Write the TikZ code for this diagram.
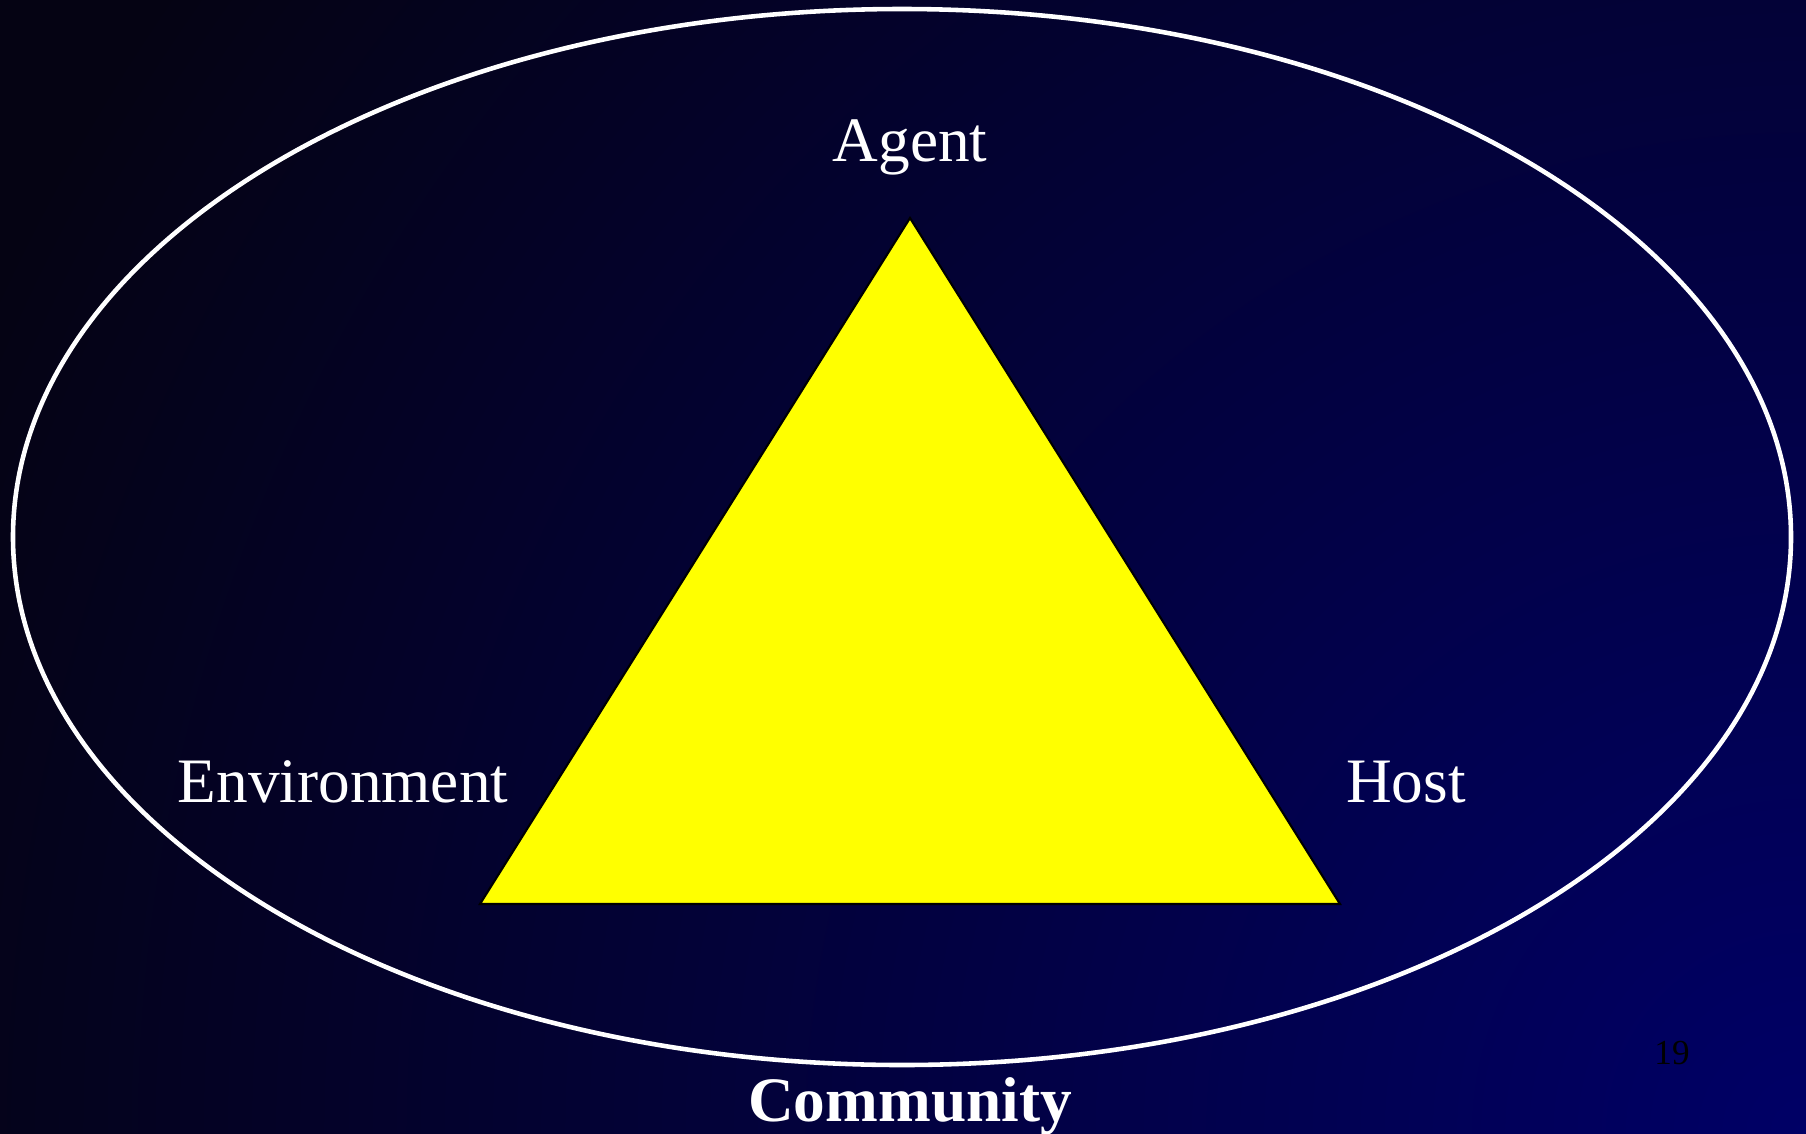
\documentclass[tikz,border=0pt]{standalone}
\usepackage{fontspec}
\setmainfont{Liberation Serif}
\usepackage{xcolor}
\usetikzlibrary{positioning}

\definecolor{bgDark}{HTML}{050313}
\definecolor{bgNavy}{HTML}{000066}
\definecolor{triYellow}{RGB}{255,255,0}

\tikzset{
  lbl/.style={text=white, inner sep=0pt, font=\fontsize{18}{22}\selectfont},
}

\begin{document}
\begin{tikzpicture}[x=0.01cm, y=-0.01cm]
    \useasboundingbox (0,0) rectangle (1806,1133);
    % slide background, brightest in the lower right corner
    \begin{scope}
        \clip (0,0) rectangle (1806,1133);
        \fill[bgDark] (0,0) rectangle (1806,1133);
        \shade[inner color=bgNavy, outer color=bgDark] (1806,1133) circle [radius=2000];
    \end{scope}
    % the ring round everything
    \draw[white, line width=1.3pt] (902,537) ellipse [x radius=889, y radius=528];
    % the triangle
    \coordinate (apex) at (910,218);
    \coordinate (envc) at (480,904);
    \coordinate (hostc) at (1340,904);
    \filldraw[fill=triYellow, draw=black, line width=0.6pt] (apex) -- (envc) -- (hostc) -- cycle;
    \node[lbl, above=0.42cm of apex] (agent) {Agent};
    \node[lbl, anchor=base] (env) at (343,802) {Environment};
    \node[lbl, anchor=base] (host) at (1406,802) {Host};
    \node[lbl, anchor=base, font=\fontsize{18}{22}\selectfont\bfseries] (comm) at (910,1121) {Community};
    \node[anchor=base, inner sep=0pt, font=\fontsize{10}{12}\selectfont] (pnum) at (1672,1064) {19};
\end{tikzpicture}
\end{document}
